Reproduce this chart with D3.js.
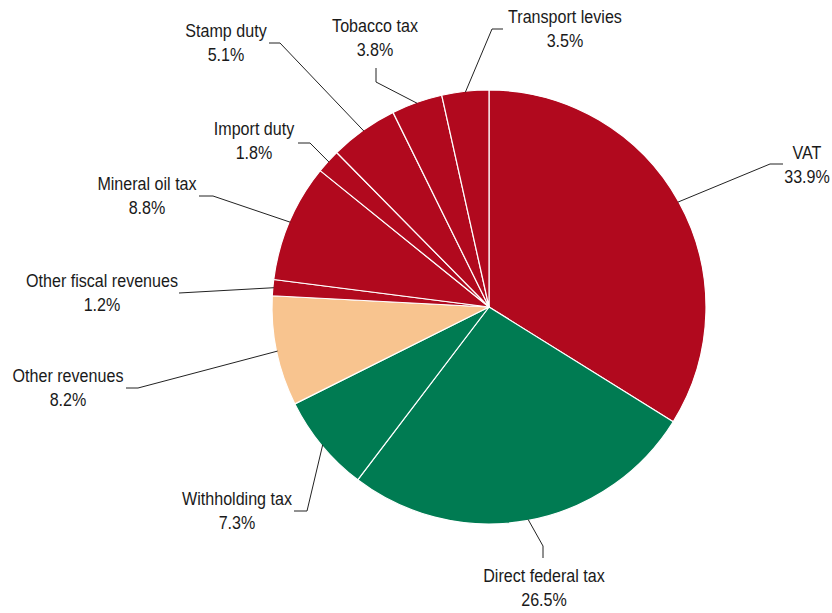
<!DOCTYPE html>
<html>
<head>
<meta charset="utf-8">
<script src="https://cdn.jsdelivr.net/npm/d3@7/dist/d3.min.js"></script>
<style>
  html, body { margin: 0; padding: 0; background: #fff; }
  svg { display: block; }
  text { font-family: "Liberation Sans", Arial, sans-serif; fill: #1a1a1a; }
</style>
</head>
<body>
<svg id="chart" width="832" height="613"></svg>
<script>
// Federal revenue composition, share of total receipts (%)
const categories = ["VAT", "Direct federal tax", "Withholding tax", "Other revenues",
  "Other fiscal revenues", "Mineral oil tax", "Import duty", "Stamp duty",
  "Tobacco tax", "Transport levies"];
const shares = [33.9, 26.5, 7.3, 8.2, 1.2, 8.8, 1.8, 5.1, 3.8, 3.5];
const groups = ["indirect", "direct", "direct", "other", "indirect",
  "indirect", "indirect", "indirect", "indirect", "indirect"];

const groupColors = { indirect: "#B1091E", direct: "#007B52", other: "#F8C48F" };

// Leader line elbows and label anchors (x, y of the first text baseline)
const labelLayout = [
  { elbow: [770, 164], end: [783, 164], text: [807, 159] },
  { elbow: [543, 546], end: [543, 558], text: [544, 582] },
  { elbow: [307, 511], end: [294, 511], text: [237, 505] },
  { elbow: [138, 388], end: [126, 388], text: [68, 382] },
  { elbow: [179, 293], end: [179, 293], text: [102, 287] },
  { elbow: [213, 196], end: [199, 196], text: [147, 190] },
  { elbow: [310, 143], end: [298, 143], text: [254, 135] },
  { elbow: [280, 43],  end: [269, 43],  text: [226, 37] },
  { elbow: [376, 82],  end: [376, 68],  text: [375, 32] },
  { elbow: [492, 29],  end: [503, 29],  text: [565, 23] }
];

const cx = 489, cy = 307, radius = 217;
// Narrow lettering: regular sans squeezed horizontally
const squeeze = 0.87;

const data = categories.map((c, i) => ({ name: c, value: shares[i], group: groups[i], layout: labelLayout[i] }));

const pie = d3.pie().sort(null).value(d => d.value);
const arcs = pie(data);

const arc = d3.arc().innerRadius(0).outerRadius(radius);
const rimArc = d3.arc().innerRadius(radius - 1).outerRadius(radius - 1);

const svg = d3.select("#chart");
const g = svg.append("g").attr("transform", `translate(${cx},${cy})`);

g.selectAll("path.slice")
  .data(arcs)
  .join("path")
  .attr("class", "slice")
  .attr("d", arc)
  .attr("fill", d => groupColors[d.data.group])
  .attr("stroke", "#fff")
  .attr("stroke-width", 1.2)
  .attr("stroke-linejoin", "round");

// Leader lines from each slice rim to its label
const fmt = d3.format(".1f");
const labels = svg.append("g");

arcs.forEach(d => {
  const [ax, ay] = rimArc.centroid(d);
  const L = d.data.layout;
  labels.append("polyline")
    .attr("points", [[cx + ax, cy + ay], L.elbow, L.end].map(p => p.join(",")).join(" "))
    .attr("fill", "none")
    .attr("stroke", "#222")
    .attr("stroke-width", 1);

  const t = labels.append("text")
    .attr("transform", `translate(${L.text[0]},0) scale(${squeeze},1)`)
    .attr("text-anchor", "middle")
    .attr("font-size", 18.5);
  t.append("tspan").attr("x", 0).attr("y", L.text[1]).text(d.data.name);
  t.append("tspan").attr("x", 0).attr("y", L.text[1] + 24.5).text(fmt(d.data.value) + "%");
});
</script>
</body>
</html>
